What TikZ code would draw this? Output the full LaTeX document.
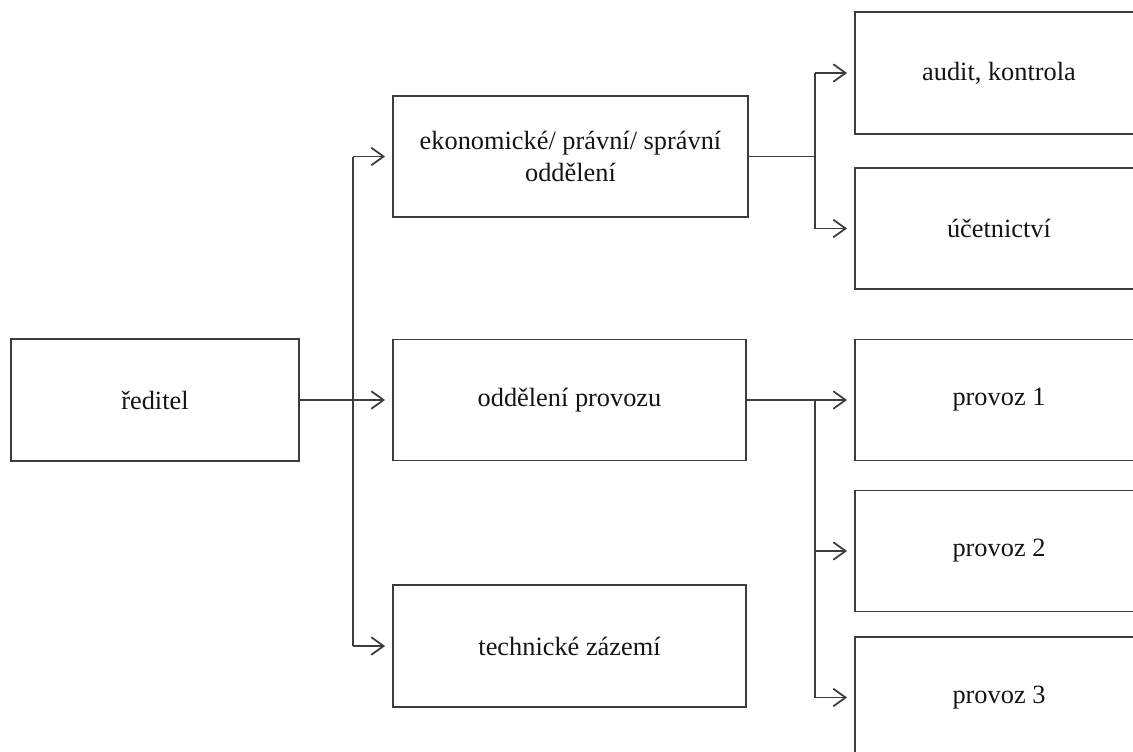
\documentclass[tikz,border=0pt]{standalone}
\usepackage{fontspec}
\setmainfont{Liberation Serif}
\usetikzlibrary{arrows.meta}
\definecolor{linec}{HTML}{3C3C3C}
\definecolor{textc}{HTML}{141414}
\begin{document}
\begin{tikzpicture}[x=0.02cm,y=-0.02cm,
  box/.style={draw=linec, line width=1.05pt, inner sep=0pt, align=center, text=textc,
    font=\fontsize{15}{18.5}\selectfont},
  conn/.style={draw=linec, line width=1pt},
  arr/.style={conn, -{Straight Barb[length=7pt,width=10pt,line width=1pt]}, shorten >=4pt}]
\useasboundingbox (0,0) rectangle (1133,751);
\node[box, minimum width=5.76cm, minimum height=2.44cm] (reditel) at (155,400) {ředitel};
\node[box, minimum width=7.1cm, minimum height=2.42cm] (ekon) at (570.5,156.5) {ekonomické/ právní/ správní\\oddělení};
\node[box, minimum width=7.06cm, minimum height=2.42cm] (provozu) at (569.5,400) {oddělení provozu};
\node[box, minimum width=7.06cm, minimum height=2.44cm] (tech) at (569.5,646) {technické zázemí};
\node[box, minimum width=5.76cm, minimum height=2.44cm] (audit) at (999,73) {audit, kontrola};
\node[box, minimum width=5.76cm, minimum height=2.42cm] (ucet) at (999,228.5) {účetnictví};
\node[box, minimum width=5.76cm, minimum height=2.42cm] (p1) at (999,400) {provoz 1};
\node[box, minimum width=5.76cm, minimum height=2.42cm] (p2) at (999,551) {provoz 2};
\node[box, minimum width=5.76cm, minimum height=2.42cm] (p3) at (999,697.5) {provoz 3};
\coordinate (t1) at (353,0);
\coordinate (t2) at (815,0);
% left trunk
\draw[arr] (reditel.east) -- (provozu.west);
\draw[conn] (t1 |- ekon.west) -- (t1 |- tech.west);
\draw[arr] (t1 |- ekon.west) -- (ekon.west);
\draw[arr] (t1 |- tech.west) -- (tech.west);
% upper right trunk
\draw[conn] (ekon.east) -- (t2 |- ekon.east);
\draw[conn] (t2 |- audit.west) -- (t2 |- ucet.west);
\draw[arr] (t2 |- audit.west) -- (audit.west);
\draw[arr] (t2 |- ucet.west) -- (ucet.west);
% lower right trunk
\draw[arr] (provozu.east) -- (p1.west);
\draw[conn] (t2 |- p1.west) -- (t2 |- p3.west);
\draw[arr] (t2 |- p2.west) -- (p2.west);
\draw[arr] (t2 |- p3.west) -- (p3.west);
\end{tikzpicture}
\end{document}
